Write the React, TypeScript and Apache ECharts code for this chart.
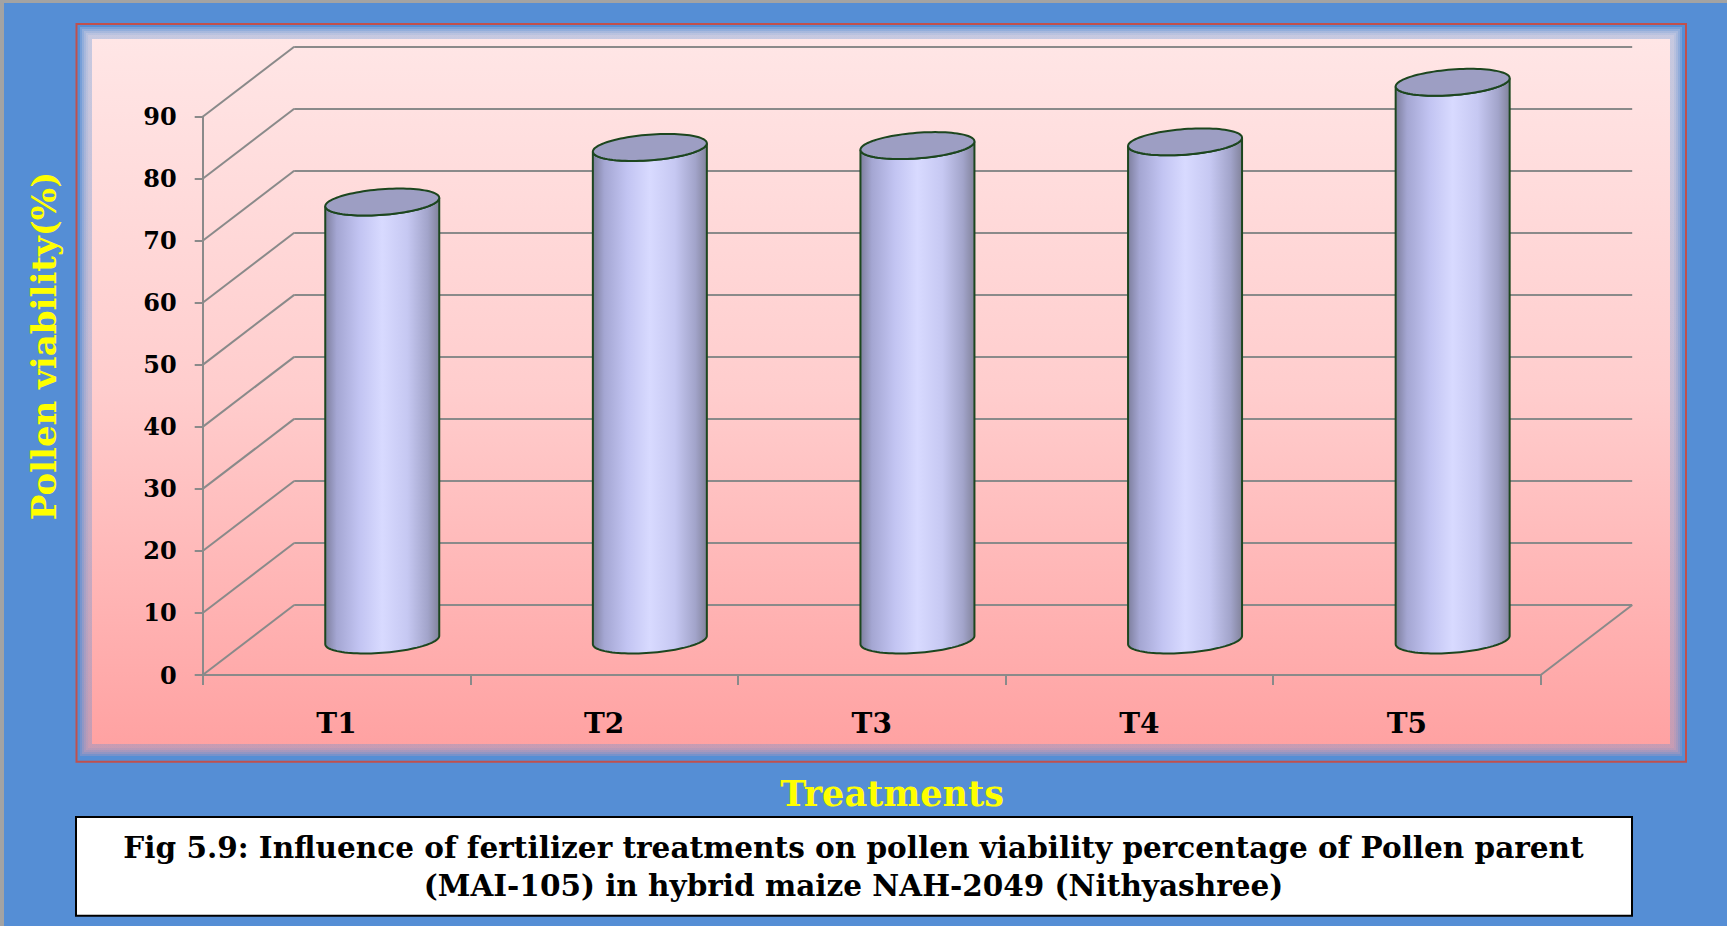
import React, { useEffect, useRef } from "react";
import * as echarts from "echarts";

// ---------- data ----------
const categories = ["T1", "T2", "T3", "T4", "T5"];
const pollenViability = [70.6, 79.4, 79.7, 80.3, 89.9];
const yTicks = [0, 10, 20, 30, 40, 50, 60, 70, 80, 90];
const yAxisTitle = "Pollen viability(%)";
const xAxisTitle = "Treatments";
const captionLines = [
  "Fig 5.9: Influence of fertilizer treatments on pollen viability percentage of Pollen parent",
  "(MAI-105) in hybrid maize NAH-2049 (Nithyashree)",
];

// ---------- layout / style ----------
const W = 1727;
const H = 926;
const FRONT = { left: 202.7, top: 116.7, width: 1338, height: 558.3 };
const DX = 91.5; // depth offset (px) to the right
const DY = 70; // depth offset (px) upwards
const GRID_COLOR = "#8A8A8A";
const FONT = '"DejaVu Serif", serif';
const EDGE = "#1C461E";
const PANEL = { x1: 90, y1: 37, x2: 1672, y2: 746 };

function buildOption() {
  const pinkGrad = () =>
    new echarts.graphic.LinearGradient(0, 0, 0, 1, [
      { offset: 0, color: "#FFE6E6" },
      { offset: 0.5, color: "#FFCDCD" },
      { offset: 1, color: "#FFA2A2" },
    ]);

  const cylRender = (params: any, api: any) => {
    const i = api.value(0);
    const v = api.value(1);
    const top = api.coord([i, v]);
    const base = api.coord([i, 0]);
    const band = api.size([1, 0])[0];
    const halfW = band * 0.213;
    const cx = top[0] + DX / 2;
    const yTop = top[1] - DY / 2;
    const yBase = base[1] - DY / 2;
    const len = Math.hypot(DX, DY);
    const rd = 22.2;
    const dvx = (rd * DX) / len;
    const dvy = (-rd * DY) / len;
    const a = Math.sqrt(halfW * halfW - dvx * dvx);
    const alpha = Math.atan2(dvx, a);
    const pt = (cy: number, t: number) => [
      cx + a * Math.cos(t) + dvx * Math.sin(t),
      cy + dvy * Math.sin(t),
    ];
    const N = 48;
    const body: number[][] = [];
    for (let k = 0; k <= N; k++) {
      body.push(pt(yBase, Math.PI + alpha + (Math.PI * k) / N));
    }
    for (let k = N; k >= 0; k--) {
      body.push(pt(yTop, Math.PI + alpha + (Math.PI * k) / N));
    }
    const topPts: number[][] = [];
    for (let k = 0; k < 96; k++) topPts.push(pt(yTop, (2 * Math.PI * k) / 96));
    const bodyGrad = new echarts.graphic.LinearGradient(0, 0, 1, 0, [
      { offset: 0, color: "#7E7F9E" },
      { offset: 0.1, color: "#A4A6D2" },
      { offset: 0.3, color: "#C2C4F2" },
      { offset: 0.5, color: "#D8DAFF" },
      { offset: 0.72, color: "#C6C8F2" },
      { offset: 0.9, color: "#A2A4CA" },
      { offset: 1, color: "#82839C" },
    ]);
    return {
      type: "group",
      children: [
        {
          type: "polygon",
          shape: { points: body },
          style: { fill: bodyGrad, stroke: EDGE, lineWidth: 2 },
        },
        {
          type: "polygon",
          shape: { points: topPts },
          style: { fill: "#9D9EC3", stroke: EDGE, lineWidth: 2 },
        },
      ],
    };
  };

  const diagRender = (params: any, api: any) => {
    const cs = params.coordSys;
    const v = api.value(1);
    const y = api.coord([0, v])[1];
    const style = { stroke: GRID_COLOR, lineWidth: 2 };
    const children: any[] = [
      { type: "line", shape: { x1: cs.x, y1: y, x2: cs.x + DX, y2: y - DY }, style },
    ];
    if (v === yTicks[0]) {
      children.push({
        type: "line",
        shape: { x1: cs.x + cs.width, y1: y, x2: cs.x + cs.width + DX, y2: y - DY },
        style,
      });
    }
    return { type: "group", children };
  };

  // feathered pink panel: a few translucent enlarged layers + opaque core
  const feather: any[] = [];
  [10, 8, 6, 4, 2].forEach((e) => {
    feather.push({
      type: "rect",
      z: -2,
      shape: {
        x: PANEL.x1 - e,
        y: PANEL.y1 - e,
        width: PANEL.x2 - PANEL.x1 + 2 * e,
        height: PANEL.y2 - PANEL.y1 + 2 * e,
      },
      style: { fill: pinkGrad(), opacity: 0.2 },
    });
  });
  feather.push({
    type: "rect",
    z: -2,
    shape: {
      x: PANEL.x1 + 2,
      y: PANEL.y1 + 2,
      width: PANEL.x2 - PANEL.x1 - 4,
      height: PANEL.y2 - PANEL.y1 - 4,
    },
    style: { fill: pinkGrad() },
  });

  return {
    animation: false,
    backgroundColor: "#558ED5",
    graphic: [
      { type: "rect", z: -3, shape: { x: 0, y: 0, width: W, height: 3 }, style: { fill: "#A3A3A3" } },
      { type: "rect", z: -3, shape: { x: 0, y: 0, width: 4, height: H }, style: { fill: "#A3A3A3" } },
      ...feather,
      {
        type: "rect",
        z: -1,
        shape: { x: 76.5, y: 24, width: 1609.5, height: 737.7 },
        style: { fill: "none", stroke: "#C0504D", lineWidth: 2 },
      },
      {
        type: "text",
        x: 44,
        y: 346,
        rotation: Math.PI / 2,
        style: {
          text: yAxisTitle,
          fill: "#FFFF00",
          font: `bold 34px ${FONT}`,
          textAlign: "center",
          textVerticalAlign: "middle",
        },
      },
      {
        type: "text",
        x: 892,
        y: 793,
        style: {
          text: xAxisTitle,
          fill: "#FFFF00",
          font: `bold 35px ${FONT}`,
          textAlign: "center",
          textVerticalAlign: "middle",
        },
      },
      {
        type: "rect",
        shape: { x: 76, y: 817, width: 1556, height: 98.7 },
        style: { fill: "#FFFFFF", stroke: "#000000", lineWidth: 2 },
      },
      {
        type: "text",
        x: 853.5,
        y: 847,
        style: {
          text: captionLines[0],
          fill: "#000",
          font: `bold 29.5px ${FONT}`,
          textAlign: "center",
          textVerticalAlign: "middle",
        },
      },
      {
        type: "text",
        x: 853.5,
        y: 885,
        style: {
          text: captionLines[1],
          fill: "#000",
          font: `bold 29.5px ${FONT}`,
          textAlign: "center",
          textVerticalAlign: "middle",
        },
      },
    ],
    grid: [
      { left: FRONT.left, top: FRONT.top, width: FRONT.width, height: FRONT.height },
      { left: FRONT.left + DX, top: FRONT.top - DY, width: FRONT.width, height: FRONT.height },
    ],
    xAxis: [
      {
        type: "category",
        gridIndex: 0,
        data: categories,
        boundaryGap: true,
        axisLine: { show: true, lineStyle: { color: GRID_COLOR, width: 2 } },
        axisTick: { show: true, length: 10, lineStyle: { color: GRID_COLOR, width: 2 } },
        axisLabel: {
          color: "#000",
          fontFamily: FONT,
          fontWeight: "bold",
          fontSize: 28,
          margin: 34,
        },
        splitLine: { show: false },
      },
      {
        type: "category",
        gridIndex: 1,
        data: categories,
        show: false,
      },
    ],
    yAxis: [
      {
        type: "value",
        gridIndex: 0,
        min: 0,
        max: 90,
        interval: 10,
        axisLine: { show: true, lineStyle: { color: GRID_COLOR, width: 2 } },
        axisTick: { show: true, length: 8, lineStyle: { color: GRID_COLOR, width: 2 } },
        axisLabel: {
          color: "#000",
          fontFamily: FONT,
          fontWeight: "bold",
          fontSize: 24,
          margin: 26,
        },
        splitLine: { show: false },
      },
      {
        type: "value",
        gridIndex: 1,
        min: 0,
        max: 90,
        interval: 10,
        axisLine: { show: false },
        axisTick: { show: false },
        axisLabel: { show: false },
        splitLine: { show: true, lineStyle: { color: GRID_COLOR, width: 2 } },
      },
    ],
    series: [
      {
        type: "custom",
        name: "walls",
        xAxisIndex: 0,
        yAxisIndex: 0,
        renderItem: diagRender,
        data: yTicks.map((v) => [0, v]),
        encode: { x: 0, y: 1 },
        silent: true,
        z: 1,
      },
      {
        type: "custom",
        name: "Pollen viability",
        xAxisIndex: 0,
        yAxisIndex: 0,
        renderItem: cylRender,
        data: pollenViability.map((v, i) => [i, v]),
        encode: { x: 0, y: 1 },
        clip: false,
        z: 3,
      },
    ],
  };
}

export default function App() {
  const ref = useRef<HTMLDivElement>(null);
  useEffect(() => {
    const chart = echarts.init(ref.current as HTMLDivElement, null, {
      renderer: "svg",
      width: W,
      height: H,
    });
    chart.setOption(buildOption() as any);
    return () => chart.dispose();
  }, []);
  return (
    <div
      ref={ref}
      style={{ position: "absolute", left: 0, top: 0, width: W, height: H }}
    />
  );
}
